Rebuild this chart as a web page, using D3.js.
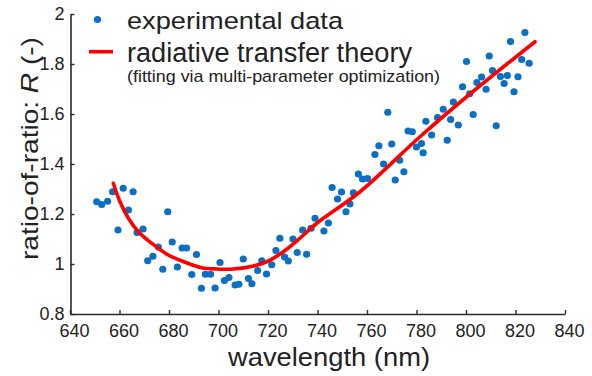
<!DOCTYPE html>
<html>
<head>
<meta charset="utf-8">
<script src="https://cdn.jsdelivr.net/npm/d3@7"></script>
<style>
  html, body { margin: 0; padding: 0; background: #fff; }
  svg { display: block; }
  text { font-family: "Liberation Sans", Arial, sans-serif; fill: #222; }
</style>
</head>
<body>
<svg id="chart" width="592" height="376"></svg>
<script>
// ---- data ----
const expWavelength = [650.8,652.8,655.2,657.2,659.4,661.5,663.6,665.5,667.1,669.5,671.4,673.5,675.7,677.5,679.5,681.3,683.4,685.3,687.1,689.2,691.1,693.1,694.7,696.8,698.6,700.6,702.4,704.2,706.7,708.2,710.0,712.1,713.5,715.8,717.5,719.4,721.5,723.2,724.8,726.7,728.2,730.1,731.8,734.0,735.6,737.4,739.0,742.6,744.4,745.9,748.1,749.7,751.5,753.1,754.5,756.5,758.2,760.2,763.2,764.8,766.7,768.4,770.0,771.4,773.2,774.9,776.6,778.3,780.0,782.0,782.7,783.8,786.1,788.5,790.8,792.4,793.8,794.9,796.9,798.6,800.2,801.5,802.9,804.4,806.3,808.1,809.4,810.7,812.2,813.9,815.4,816.7,818.0,819.4,821.0,822.5,823.8,825.5];
const expR = [1.249,1.238,1.251,1.289,1.136,1.303,1.216,1.289,1.126,1.140,1.013,1.031,1.068,0.979,1.209,1.088,0.988,1.064,1.064,0.958,1.038,0.903,0.959,0.959,0.904,1.006,0.934,0.946,0.916,0.919,1.020,0.942,0.921,0.974,1.013,0.960,0.997,1.054,1.103,1.028,1.012,1.100,1.046,1.136,1.039,1.143,1.183,1.132,1.164,1.306,1.260,1.288,1.209,1.240,1.285,1.360,1.340,1.342,1.438,1.473,1.400,1.607,1.480,1.336,1.415,1.369,1.532,1.529,1.468,1.482,1.445,1.571,1.516,1.586,1.619,1.495,1.578,1.648,1.556,1.709,1.810,1.681,1.598,1.726,1.748,1.699,1.832,1.774,1.553,1.750,1.722,1.754,1.890,1.689,1.749,1.818,1.926,1.803];

const fitWavelength = [657.5,660.2,663.6,667.6,673.0,679.7,686.5,693.2,699.3,706.0,712.7,719.5,726.2,732.9,739.7,757.2,781.4,801.6,827.9];
const fitR = [1.323,1.249,1.183,1.129,1.083,1.036,1.007,0.985,0.980,0.980,0.989,1.009,1.049,1.103,1.163,1.289,1.509,1.680,1.889];

const xTicks = [640,660,680,700,720,740,760,780,800,820,840];
const yTicks = [0.8,1.0,1.2,1.4,1.6,1.8,2.0];

const legendLabels = ["experimental data", "radiative transfer theory", "(fitting via multi-parameter optimization)"];
const xLabel = "wavelength (nm)";

// ---- drawing ----
const svg = d3.select("#chart");
const x = d3.scaleLinear().domain([640, 840]).range([70, 565]);
const y = d3.scaleLinear().domain([0.8, 2.0]).range([314, 14]);

const blue = "#0b6fc4";
const red = "#ff0000";
const axisColor = "#2a2a2a";
const fam = '"Liberation Sans", Arial, sans-serif';

// axes
const xAxis = d3.axisBottom(x).tickValues(xTicks).tickFormat(d3.format("d"))
  .tickSizeInner(-4).tickSizeOuter(0).tickPadding(10);
const gx = svg.append("g").attr("transform", "translate(0,314)").call(xAxis);
gx.selectAll("text").attr("font-size", 18).attr("dx", 4)
  .style("font-family", fam).attr("fill", "#222");

const yAxis = d3.axisLeft(y).tickValues(yTicks).tickFormat(d3.format("~g"))
  .tickSizeInner(-4).tickSizeOuter(0).tickPadding(6);
const gy = svg.append("g").attr("transform", "translate(70.5,0)").call(yAxis);
gy.selectAll("text").attr("font-size", 18)
  .style("font-family", fam).attr("fill", "#222");

[gx, gy].forEach(g => {
  g.select(".domain").attr("stroke", axisColor).attr("stroke-width", 1.6);
  g.selectAll(".tick line").attr("stroke", axisColor).attr("stroke-width", 1.4);
});

// scatter
const pts = expWavelength.map((w, i) => [w, expR[i]]);
svg.append("g").selectAll("circle").data(pts).join("circle")
  .attr("cx", d => x(d[0])).attr("cy", d => y(d[1])).attr("r", 3.6)
  .attr("fill", blue);

// fitted curve
const fit = fitWavelength.map((w, i) => [w, fitR[i]]);
svg.append("path").datum(fit)
  .attr("d", d3.line().x(d => x(d[0])).y(d => y(d[1])).curve(d3.curveCatmullRom.alpha(0.5)))
  .attr("fill", "none").attr("stroke", red).attr("stroke-width", 3.6)
  .attr("stroke-linecap", "round");

// axis labels
svg.append("text").attr("x", 329).attr("y", 366).attr("text-anchor", "middle")
  .attr("font-size", 26).attr("textLength", 202).attr("lengthAdjust", "spacingAndGlyphs")
  .text(xLabel);

const yl = svg.append("text").attr("transform", "translate(37.5,148.5) rotate(-90)")
  .attr("text-anchor", "middle").attr("font-size", 24)
  .attr("textLength", 223).attr("lengthAdjust", "spacingAndGlyphs");
yl.append("tspan").text("ratio-of-ratio: ");
yl.append("tspan").attr("font-style", "italic").text("R");
yl.append("tspan").text(" (-)");

// legend
svg.append("circle").attr("cx", 97.5).attr("cy", 19.5).attr("r", 3.6).attr("fill", blue);
svg.append("line").attr("x1", 89).attr("x2", 113).attr("y1", 51.7).attr("y2", 51.7)
  .attr("stroke", red).attr("stroke-width", 3.6);

svg.append("text").attr("x", 127).attr("y", 28.5).attr("font-size", 24.5)
  .attr("textLength", 216).attr("lengthAdjust", "spacingAndGlyphs").text(legendLabels[0]);
svg.append("text").attr("x", 127).attr("y", 61.5).attr("font-size", 27)
  .attr("textLength", 285).attr("lengthAdjust", "spacingAndGlyphs").text(legendLabels[1]);
svg.append("text").attr("x", 127).attr("y", 81.5).attr("font-size", 17)
  .attr("textLength", 313).attr("lengthAdjust", "spacingAndGlyphs").attr("fill", "#333").text(legendLabels[2]);
</script>
</body>
</html>
